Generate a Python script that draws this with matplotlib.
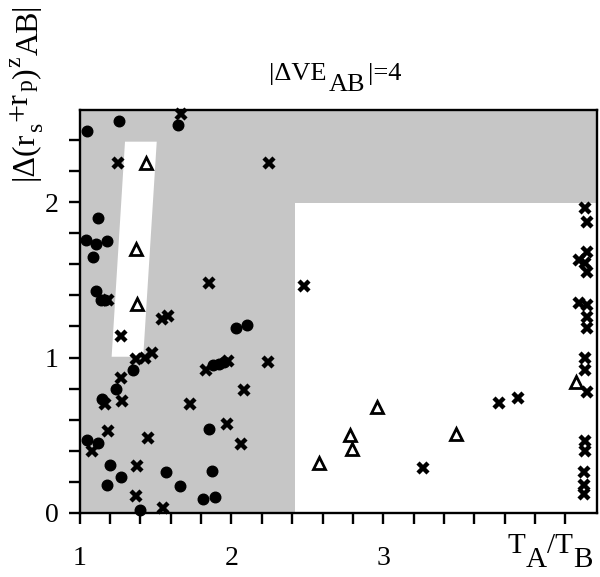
import matplotlib
matplotlib.use('Agg')
import matplotlib.pyplot as plt
import numpy as np

plt.rcParams['font.family'] = ['Liberation Serif', 'DejaVu Serif']

# ---------------- data ----------------
circle_x = [1.05, 1.26, 1.65, 1.12, 1.04, 1.11, 1.18, 1.09, 1.11, 1.14, 1.17,
            2.03, 2.10, 1.35, 1.88, 1.92, 1.95, 1.24, 1.15, 1.85, 1.05, 1.12,
            1.20, 1.27, 1.18, 1.57, 1.66, 1.87, 1.81, 1.89, 1.40]
circle_y = [2.46, 2.52, 2.50, 1.90, 1.76, 1.73, 1.75, 1.65, 1.43, 1.37, 1.37,
            1.19, 1.21, 0.92, 0.95, 0.96, 0.97, 0.80, 0.73, 0.54, 0.47, 0.45,
            0.31, 0.23, 0.18, 0.26, 0.17, 0.27, 0.09, 0.10, 0.02]

cross_x = [1.67, 1.25, 2.25, 1.19, 1.85, 2.48, 1.27, 1.54, 1.58, 1.37, 1.43,
           1.48, 1.83, 1.98, 2.24, 1.27, 1.17, 1.28, 1.73, 2.08, 1.97, 1.19,
           1.08, 1.45, 2.06, 1.38, 1.37, 1.55,
           3.26, 3.76, 3.89,
           4.33, 4.34, 4.34, 4.29, 4.33, 4.34, 4.29, 4.34, 4.34, 4.34,
           4.33, 4.33, 4.34, 4.33, 4.33, 4.32, 4.32, 4.32]
cross_y = [2.57, 2.25, 2.25, 1.37, 1.48, 1.46, 1.14, 1.25, 1.27, 0.99, 1.00,
           1.03, 0.92, 0.98, 0.97, 0.87, 0.70, 0.72, 0.70, 0.79, 0.57, 0.53,
           0.40, 0.48, 0.44, 0.30, 0.11, 0.03,
           0.29, 0.71, 0.74,
           1.96, 1.87, 1.68, 1.63, 1.61, 1.55, 1.35, 1.34, 1.26, 1.19,
           1.00, 0.92, 0.78, 0.46, 0.40, 0.26, 0.18, 0.12]

tri_x = [1.435, 1.37, 1.38, 2.58, 2.78, 2.795, 2.96, 3.48, 4.27]
tri_y = [2.25, 1.70, 1.345, 0.32, 0.50, 0.41, 0.68, 0.51, 0.84]

# white (unshaded) regions
rect_x = [2.418, 4.6, 4.6, 2.418]
rect_y = [-0.1, -0.1, 1.993, 1.993]
strip_x = [1.299, 1.508, 1.419, 1.211]
strip_y = [2.39, 2.39, 1.005, 1.005]

x_ticks = [1.0, 1.2, 1.4, 1.6, 1.8, 2.0, 2.2, 2.4, 2.6, 2.8, 3.0, 3.2, 3.4,
           3.6, 3.8, 4.0, 4.2]
x_ticklabels = ['1', '', '', '', '', '2', '', '', '', '', '3', '', '', '',
                '', '', '']
y_ticks = [0.0, 0.2, 0.4, 0.6, 0.8, 1.0, 1.2, 1.4, 1.6, 1.8, 2.0, 2.2, 2.4]
y_ticklabels = ['0', '', '', '', '', '1', '', '', '', '', '2', '', '']

# ---------------- figure ----------------
W, H = 600, 577
fig = plt.figure(figsize=(W / 100, H / 100), dpi=100)
renderer = fig.canvas.get_renderer()

ax = fig.add_axes([79.6 / W, (H - 512.8) / H, 517.1 / W, 402.8 / H])
ax.set_facecolor('#c6c6c6')
ax.fill(rect_x, rect_y, color='white', lw=0, zorder=0.5)
ax.fill(strip_x, strip_y, color='white', lw=0, zorder=0.5)

ax.plot(circle_x, circle_y, 'o', color='black', ms=7.6, zorder=3,
        clip_on=False)
ax.plot(cross_x, cross_y, 'x', color='black', ms=6.8, mew=3.2, zorder=3,
        clip_on=False)
ax.plot(tri_x, tri_y, '^', mfc='none', mec='black', ms=9, mew=2.0, zorder=3,
        clip_on=False)

ax.set_xlim(1.0, 4.406)
ax.set_ylim(0.0, 2.594)
ax.set_xticks(x_ticks)
ax.set_xticklabels(x_ticklabels)
ax.set_yticks(y_ticks)
ax.set_yticklabels(y_ticklabels)
ax.tick_params(axis='both', direction='out', length=8, width=1.7,
               labelsize=20, color='black')
ax.tick_params(axis='x', pad=16)
ax.tick_params(axis='y', pad=7)
for sp in ax.spines.values():
    sp.set_linewidth(1.7)
    sp.set_color('black')


def rich(segs, anchor, rotation=0, align='center', gap=1.0):
    """Lay out text pieces along a baseline; anchor in image pixels
    (x from left, y from top).  Each seg: (text, size, shift_px)."""
    a = np.deg2rad(rotation)
    ux, uy = np.cos(a), np.sin(a)
    nx, ny = -np.sin(a), np.cos(a)
    texts, along = [], 0.0
    starts = []
    for txt, size, shift in segs:
        t = fig.text(0, 0, txt, fontsize=size, rotation=rotation,
                     rotation_mode='anchor', ha='left', va='baseline',
                     color='black')
        bb = t.get_window_extent(renderer)
        length = bb.width if rotation == 0 else bb.height
        texts.append((t, shift))
        starts.append(along)
        along += length + gap
    total = along - gap
    off = -total / 2 if align == 'center' else 0.0
    X0, Y0 = anchor[0], H - anchor[1]
    for (t, shift), s in zip(texts, starts):
        px = X0 + (s + off) * ux + shift * nx
        py = Y0 + (s + off) * uy + shift * ny
        t.set_position((px / W, py / H))
    return texts


# title  |ΔVE_AB|=4
rich([('|ΔVE', 19, 0), ('AB', 19, -11), ('|=4', 19, 0)],
     anchor=(335, 80), rotation=0, align='center', gap=2.5)

# x label  T_A/T_B
rich([('T', 21, 0), ('A', 21, -14), ('/T', 21, 0), ('B', 21, -14)],
     anchor=(507, 553), rotation=0, align='left', gap=0.5)

# y label  |Δ(r_s+r_p)^z_AB|
rich([('|Δ(r', 23, 0), ('s', 17, -9), ('+r', 23, 7), ('p', 17, 0),
      (')', 23, 0), ('z', 17, 13), ('AB', 23, -5), ('|', 23, 0)],
     anchor=(33, 92), rotation=90, align='center', gap=1.0)

fig.savefig('out.png', dpi=100)
